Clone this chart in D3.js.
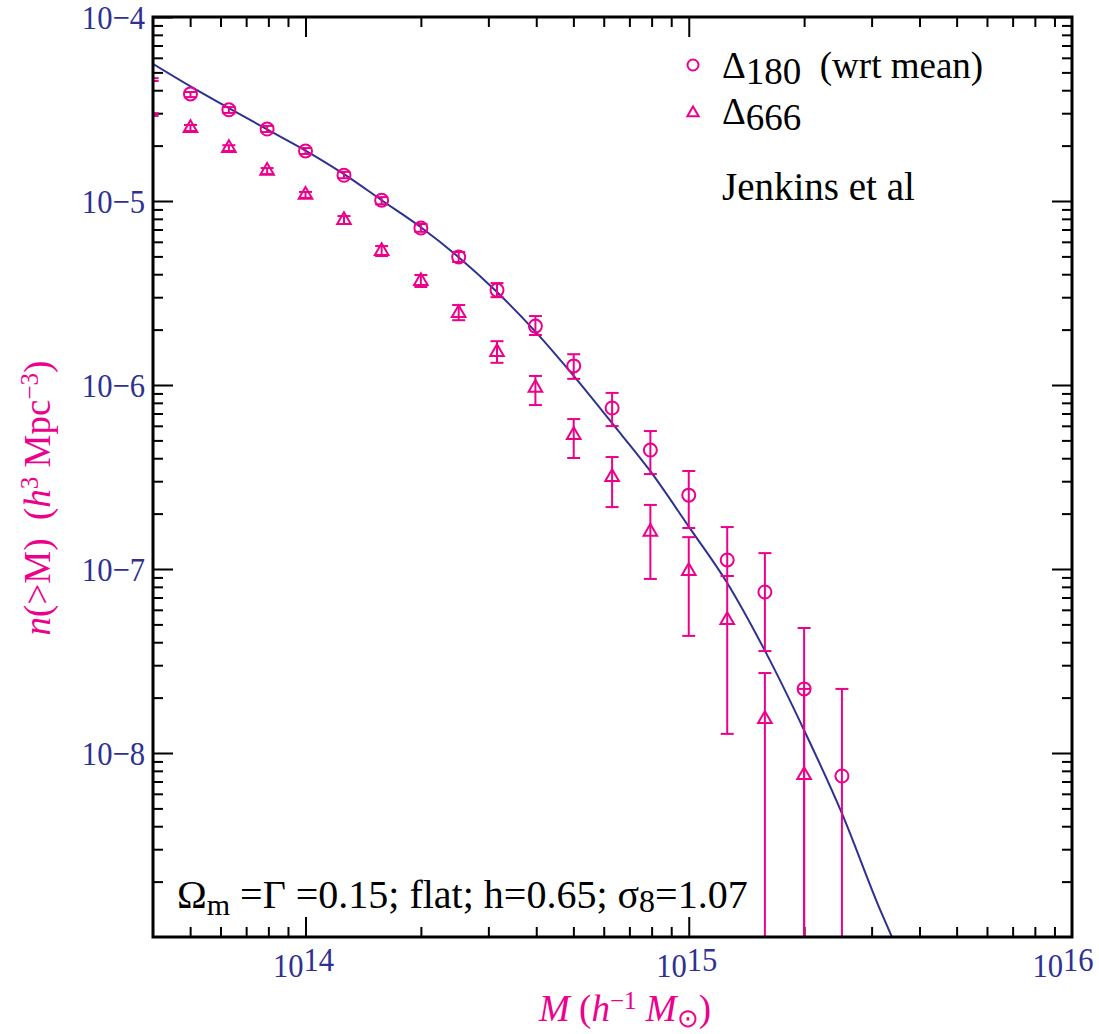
<!DOCTYPE html>
<html>
<head>
<meta charset="utf-8">
<script src="https://cdn.jsdelivr.net/npm/d3@7"></script>
<style>
  body { margin: 0; background: #fff; }
  svg text { font-family: "Liberation Serif", serif; }
</style>
</head>
<body>
<div id="chart"></div>
<script>
// mass bins (h^-1 Msun), one per 0.1 dex
var massBins = [3.98e13, 5.01e13, 6.31e13, 7.94e13, 1.0e14, 1.26e14, 1.58e14, 2.0e14, 2.51e14,
    3.16e14, 3.98e14, 5.01e14, 6.31e14, 7.94e14, 1.0e15, 1.26e15, 1.58e15, 2.0e15, 2.51e15];

// Delta_180 (wrt mean), circles
var n180 = [4.57e-5, 3.82e-5, 3.13e-5, 2.46e-5, 1.87e-5, 1.38e-5, 1.01e-5, 7.13e-6, 4.96e-6,
    3.28e-6, 2.09e-6, 1.27e-6, 7.5e-7, 4.43e-7, 2.52e-7, 1.12e-7, 7.5e-8, 2.23e-8, 7.5e-9];
var n180Hi = [4.65e-5, 3.91e-5, 3.24e-5, 2.56e-5, 1.94e-5, 1.44e-5, 1.05e-5, 7.5e-6, 5.28e-6,
    3.58e-6, 2.37e-6, 1.47e-6, 9.06e-7, 5.62e-7, 3.41e-7, 1.69e-7, 1.22e-7, 4.78e-8, 2.23e-8];
var n180Lo = [4.49e-5, 3.67e-5, 3.01e-5, 2.37e-5, 1.80e-5, 1.33e-5, 9.6e-6, 6.8e-6, 4.66e-6,
    3.0e-6, 1.87e-6, 1.08e-6, 5.98e-7, 3.28e-7, 1.67e-7, 9.16e-8, 3.58e-8, 0, 0];

// Delta_666, triangles
var n666 = [2.95e-5, 2.49e-5, 1.94e-5, 1.46e-5, 1.08e-5, 7.88e-6, 5.35e-6, 3.67e-6, 2.46e-6,
    1.51e-6, 9.64e-7, 5.35e-7, 3.16e-7, 1.59e-7, 9.75e-8, 5.28e-8, 1.53e-8, 7.58e-9];
var n666Hi = [3.0e-5, 2.59e-5, 2.01e-5, 1.51e-5, 1.12e-5, 8.28e-6, 5.69e-6, 3.96e-6, 2.72e-6,
    1.73e-6, 1.12e-6, 6.53e-7, 4.06e-7, 2.23e-7, 1.49e-7, 9.16e-8, 2.72e-8, 2.23e-8];
var n666Lo = [2.9e-5, 2.40e-5, 1.87e-5, 1.40e-5, 1.04e-5, 7.5e-6, 5.02e-6, 3.41e-6, 2.25e-6,
    1.32e-6, 7.78e-7, 4.01e-7, 2.17e-7, 8.83e-8, 4.33e-8, 1.27e-8, 0, 0];

// Jenkins et al fit
var jenkinsMass = [3.98e13, 5.01e13, 6.31e13, 7.94e13, 1.0e14, 1.26e14, 1.58e14, 2.0e14, 2.51e14,
    3.16e14, 3.98e14, 5.01e14, 6.31e14, 7.94e14, 1.0e15, 1.26e15, 1.58e15, 2.0e15, 2.51e15,
    3.16e15, 3.39e15];
var jenkinsN = [5.6e-5, 4.2e-5, 3.2e-5, 2.45e-5, 1.88e-5, 1.40e-5, 1.01e-5, 7.2e-6, 4.95e-6,
    3.2e-6, 1.95e-6, 1.12e-6, 6.2e-7, 3.4e-7, 1.7e-7, 8.4e-8, 3.6e-8, 1.33e-8, 4.7e-9,
    1.4e-9, 1.0e-9];

var xMajor = [1e14, 1e15, 1e16];
var xLabels = ["14", "15", "16"];
var yMajor = [1e-8, 1e-7, 1e-6, 1e-5, 1e-4];
var yLabels = ["−8", "−7", "−6", "−5", "−4"];

var pink = "#ec008c",
    navy = "#2e3192",
    serif = "Liberation Serif";

var margin = {top: 17, right: 27, bottom: 97, left: 153},
    width = 1099 - margin.left - margin.right,
    height = 1034 - margin.top - margin.bottom;

var svg = d3.select("#chart")
    .append("svg")
    .attr("width", width + margin.left + margin.right)
    .attr("height", height + margin.top + margin.bottom)
    .attr("font-family", serif);

var g = svg.append("g")
    .attr("transform", "translate(" + margin.left + "," + margin.top + ")");

var x = d3.scaleLog().domain([4e13, 1e16]).range([0, width]);
var y = d3.scaleLog().domain([1e-9, 1e-4]).range([height, 0]);

g.append("clipPath").attr("id", "plotClip")
    .append("rect").attr("width", width).attr("height", height);

// minor tick values: 2..9 times each decade
function minors(lo, hi) {
    var out = [];
    for (var e = lo; e < hi; e++) {
        for (var k = 2; k <= 9; k++) out.push(k * Math.pow(10, e));
    }
    return out;
}
var xMinor = minors(13, 16).filter(function (v) { return v > 4e13 && v < 1e16; });
var yMinor = minors(-9, -4);

function tickAxis(axis, transform) {
    var a = g.append("g").attr("transform", transform).call(axis);
    a.select(".domain").remove();
    a.selectAll("line").attr("stroke", "#000").attr("stroke-width", 2);
    a.selectAll("text").remove();
}

// ticks on all four sides, pointing inwards
tickAxis(d3.axisBottom(x).tickValues(xMajor.slice(0, 2)).tickSize(-20), "translate(0," + height + ")");
tickAxis(d3.axisBottom(x).tickValues(xMinor).tickSize(-10), "translate(0," + height + ")");
tickAxis(d3.axisTop(x).tickValues(xMajor.slice(0, 2)).tickSize(-20), "translate(0,0)");
tickAxis(d3.axisTop(x).tickValues(xMinor).tickSize(-10), "translate(0,0)");
tickAxis(d3.axisLeft(y).tickValues(yMajor).tickSize(-20), "translate(0,0)");
tickAxis(d3.axisLeft(y).tickValues(yMinor).tickSize(-10), "translate(0,0)");
tickAxis(d3.axisRight(y).tickValues(yMajor).tickSize(-20), "translate(" + width + ",0)");
tickAxis(d3.axisRight(y).tickValues(yMinor).tickSize(-10), "translate(" + width + ",0)");

// tick labels
xMajor.forEach(function (v, i) {
    var t = g.append("text")
        .attr("transform", "translate(" + Math.min(x(v) - 2, width - 9) + "," + (height + 40) + ") scale(0.9,1)")
        .attr("text-anchor", "middle")
        .attr("font-family", serif)
        .attr("font-size", 34)
        .attr("fill", navy);
    t.append("tspan").text("10");
    t.append("tspan").attr("dy", -6).text(xLabels[i]);
});

yMajor.forEach(function (v, i) {
    var t = g.append("text")
        .attr("transform", "translate(-8," + (y(v) + 12) + ") scale(0.9,1)")
        .attr("text-anchor", "end")
        .attr("font-family", serif)
        .attr("font-size", 34)
        .attr("fill", navy);
    t.append("tspan").text("10");
    t.append("tspan").text(yLabels[i]);
});

// axis titles
var xt = g.append("text")
    .attr("x", 472)
    .attr("y", height + 84)
    .attr("text-anchor", "middle")
    .attr("font-family", serif)
    .attr("font-size", 37)
    .attr("fill", pink);
xt.append("tspan").attr("font-style", "italic").text("M");
xt.append("tspan").text(" (");
xt.append("tspan").attr("font-style", "italic").text("h");
xt.append("tspan").attr("font-size", 25).attr("dy", -12).text("−1");
xt.append("tspan").attr("dy", 12).text(" ");
xt.append("tspan").attr("font-style", "italic").text("M");
xt.append("tspan").attr("font-size", 26).attr("dy", 6).text("⊙");
xt.append("tspan").attr("dy", -6).text(")");

var yt = svg.append("text")
    .attr("transform", "translate(50," + 498 + ") rotate(-90)")
    .attr("text-anchor", "middle")
    .attr("font-family", serif)
    .attr("font-size", 37)
    .attr("fill", pink);
yt.append("tspan").attr("font-style", "italic").text("n");
yt.append("tspan").text("(>M)\u00a0\u00a0(");
yt.append("tspan").attr("font-style", "italic").text("h");
yt.append("tspan").attr("font-size", 25).attr("dy", -12).text("3");
yt.append("tspan").attr("dy", 12).text(" Mpc");
yt.append("tspan").attr("font-size", 25).attr("dy", -12).text("−3");
yt.append("tspan").attr("dy", 12).text(")");

// plotted data, clipped to the frame
var plot = g.append("g").attr("clip-path", "url(#plotClip)");

plot.append("path")
    .datum(jenkinsMass.map(function (m, i) { return [m, jenkinsN[i]]; }))
    .attr("fill", "none")
    .attr("stroke", navy)
    .attr("stroke-width", 2)
    .attr("d", d3.line()
        .x(function (d) { return x(d[0]); })
        .y(function (d) { return y(d[1]); })
        .curve(d3.curveMonotoneX));

function series(vals, hi, lo) {
    return vals.map(function (v, i) {
        return {m: massBins[i], n: v, hi: hi[i], lo: lo[i]};
    });
}
var circles = series(n180, n180Hi, n180Lo);
var triangles = series(n666, n666Hi, n666Lo);

function errorBars(data) {
    var cap = 6.5;
    var eb = plot.append("g")
        .attr("stroke", pink)
        .attr("stroke-width", 2)
        .selectAll("g")
        .data(data)
        .enter()
        .append("g");
    eb.append("line")
        .attr("x1", function (d) { return x(d.m); })
        .attr("x2", function (d) { return x(d.m); })
        .attr("y1", function (d) { return y(d.hi); })
        .attr("y2", function (d) { return d.lo > 0 ? y(d.lo) : height; });
    eb.append("line")
        .attr("x1", function (d) { return x(d.m) - cap; })
        .attr("x2", function (d) { return x(d.m) + cap; })
        .attr("y1", function (d) { return y(d.hi); })
        .attr("y2", function (d) { return y(d.hi); });
    eb.filter(function (d) { return d.lo > 0; })
        .append("line")
        .attr("x1", function (d) { return x(d.m) - cap; })
        .attr("x2", function (d) { return x(d.m) + cap; })
        .attr("y1", function (d) { return y(d.lo); })
        .attr("y2", function (d) { return y(d.lo); });
}
errorBars(circles);
errorBars(triangles);

function inside(d) { return d.m >= x.domain()[0]; }

plot.selectAll(".c180")
    .data(circles.filter(inside))
    .enter()
    .append("circle")
    .attr("class", "c180")
    .attr("cx", function (d) { return x(d.m); })
    .attr("cy", function (d) { return y(d.n); })
    .attr("r", 6.5)
    .attr("fill", "none")
    .attr("stroke", pink)
    .attr("stroke-width", 2);

var tri = d3.symbol().type(d3.symbolTriangle).size(80);
plot.selectAll(".t666")
    .data(triangles.filter(inside))
    .enter()
    .append("path")
    .attr("class", "t666")
    .attr("d", tri)
    .attr("transform", function (d) { return "translate(" + x(d.m) + "," + y(d.n) + ")"; })
    .attr("fill", "none")
    .attr("stroke", pink)
    .attr("stroke-width", 2);

// frame
g.append("rect")
    .attr("width", width)
    .attr("height", height)
    .attr("fill", "none")
    .attr("stroke", "#000")
    .attr("stroke-width", 3);

// legend
var legend = svg.append("g").attr("font-family", serif);
legend.append("circle")
    .attr("cx", 693).attr("cy", 65).attr("r", 5.5)
    .attr("fill", "none").attr("stroke", pink).attr("stroke-width", 2);
legend.append("path")
    .attr("d", d3.symbol().type(d3.symbolTriangle).size(55))
    .attr("transform", "translate(693,113)")
    .attr("fill", "none").attr("stroke", pink).attr("stroke-width", 2);

var l1 = legend.append("text").attr("x", 722).attr("y", 78).attr("font-size", 37).attr("fill", "#000");
l1.append("tspan").text("Δ");
l1.append("tspan").attr("dy", 6).text("180");
l1.append("tspan").attr("dy", -6).text("\u00a0\u00a0(wrt mean)");

var l2 = legend.append("text").attr("x", 722).attr("y", 124).attr("font-size", 37).attr("fill", "#000");
l2.append("tspan").text("Δ");
l2.append("tspan").attr("dy", 6).text("666");

legend.append("text")
    .attr("x", 722).attr("y", 200)
    .attr("font-size", 39)
    .attr("fill", "#000")
    .text("Jenkins et al");

// cosmology note
var note = svg.append("text").attr("x", 177).attr("y", 908)
    .attr("font-family", serif).attr("font-size", 40).attr("fill", "#000");
note.append("tspan").text("Ω");
note.append("tspan").attr("font-size", 30).attr("dy", 7).text("m");
note.append("tspan").attr("dy", -7).text(" =Γ =0.15; flat; h=0.65; σ");
note.append("tspan").attr("font-size", 32).attr("dy", 4).text("8");
note.append("tspan").attr("dy", -4).text("=1.07");
</script>
</body>
</html>
